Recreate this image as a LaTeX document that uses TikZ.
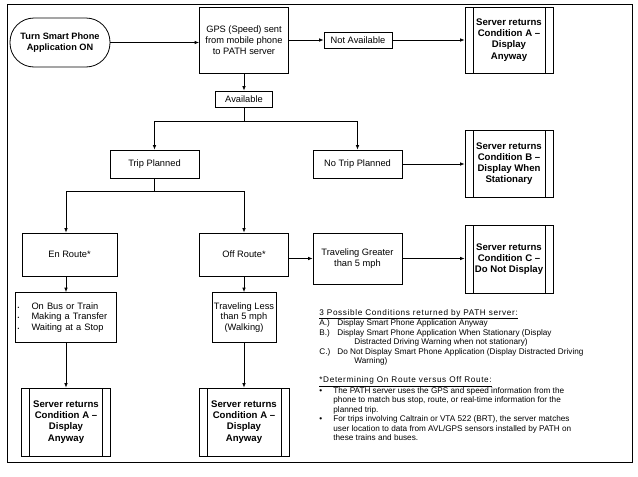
\documentclass[tikz,border=0pt]{standalone}
\usepackage{fontspec}
\setmainfont{Liberation Sans}
\usetikzlibrary{arrows.meta,calc}

\begin{document}
\begin{tikzpicture}[x=1pt,y=-1pt,
		%Option for nice arrows%
		>={Latex[length=4.5pt,width=3.6pt]},%
		line width=0.8pt,%
		box/.style={draw, inner sep=1.5pt, align=center,
			font=\fontsize{9.3}{10.8}\selectfont},%
		term/.style={box, rounded corners=24pt,
			font=\bfseries\fontsize{9.2}{10.8}\selectfont},%
		srv/.style={box, font=\bfseries\fontsize{9.6}{11.2}\selectfont,
			path picture={\draw[line width=0.8pt]
				([xshift=\inset]path picture bounding box.north west) -- ([xshift=\inset]path picture bounding box.south west)
				([xshift=-\inset]path picture bounding box.north east) -- ([xshift=-\inset]path picture bounding box.south east);}},%
		note/.style={align=left, anchor=north west, inner sep=0pt,
			font=\fontsize{8.2}{9.45}\selectfont}%
		]
		%% some definitions
		\def\inset{8pt}    % side bars of the server boxes
		\def\bul{\makebox[14pt][l]{\tiny\textbullet}} % bullet in the list box
		\def\head#1{\underline{\addfontfeature{LetterSpace=8}#1}} % note headings
		%
		\useasboundingbox (0,0) rectangle (638,477);
		\draw[line width=1pt] (7,4) rectangle (632,462);
		%
		%% first row
		\node[term, minimum width=100pt, minimum height=49pt] (start) at (60,42.5) {Turn Smart Phone\\Application ON};
		\node[box, minimum width=89pt, minimum height=66pt] (gps) at (244,40) {GPS (Speed) sent\\from mobile phone\\to PATH server};
		\node[box, minimum width=68pt, minimum height=16pt] (notavail) at (358,40) {Not Available};
		\node[srv, minimum width=88pt, minimum height=66pt] (srvA) at (509,40) {Server returns\\Condition A --\\Display\\Anyway};
		\node[box, minimum width=57pt, minimum height=16pt] (avail) at (244,99) {Available};
		%
		%% trip planned or not
		\node[box, minimum width=89pt, minimum height=28pt] (trip) at (154.5,164) {Trip Planned};
		\node[box, minimum width=89pt, minimum height=28pt] (notrip) at (357.5,164) {No Trip Planned};
		\node[srv, minimum width=88pt, minimum height=67pt] (srvB) at (509,163.5) {Server returns\\Condition B --\\Display When\\Stationary};
		%
		%% en route / off route
		\node[box, minimum width=95pt, minimum height=43pt] (enroute) at (69.5,254.5) {En Route*};
		\node[box, minimum width=89pt, minimum height=43pt] (offroute) at (244,254.5) {Off Route*};
		\node[box, minimum width=89pt, minimum height=51pt] (greater) at (357.5,258.5) {Traveling Greater\\than 5 mph};
		\node[srv, minimum width=88pt, minimum height=68pt] (srvC) at (509,259) {Server returns\\Condition C --\\Do Not Display};
		\node[box, align=left, minimum width=101pt, minimum height=50pt, text width=97pt] (onbus) at (66,317.5)
			{\bul On Bus or Train\\\bul Making a Transfer\\\bul Waiting at a Stop};
		\node[box, minimum width=64pt, minimum height=50pt] (less) at (244,317.5) {Traveling Less\\than 5 mph\\(Walking)};
		\node[srv, minimum width=89pt, minimum height=68pt] (srvAen) at (66,422) {Server returns\\Condition A --\\Display\\Anyway};
		\node[srv, minimum width=90pt, minimum height=68pt] (srvAoff) at (244,422) {Server returns\\Condition A --\\Display\\Anyway};
		%
		%% connectors
		\draw[->] (start.east) -- (start.east -| gps.west);
		\draw[->] (gps) -- (notavail);
		\draw[->] (notavail) -- (srvA);
		\draw[->] (gps) -- (avail);
		\draw[->] (avail.south) -- ++(0,14) -| (trip.north);
		\draw[->] (avail.south) -- ++(0,14) -| (notrip.north);
		\draw[->] (notrip) -- (notrip -| srvB.west);
		\draw[->] (trip.south) -- ++(0,13) -| (enroute.north -| onbus.north);
		\draw[->] (trip.south) -- ++(0,13) -| (offroute.north);
		\draw[->] (enroute.south -| onbus.north) -- (onbus.north);
		\draw[->] (onbus) -- (srvAen);
		\draw[->] (offroute) -- (less);
		\draw[->] (less) -- (srvAoff);
		\draw[->] (greater.west -| offroute.east) -- (greater.west);
		\draw[->] (greater.east) -- (greater.east -| srvC.west);
		%
		%% notes
		\node[note] (conds) at (319,309) {%
			\head{3 Possible Conditions returned by PATH server:}\\
			\makebox[18pt][l]{A.)}Display Smart Phone Application Anyway\\
			\makebox[18pt][l]{B.)}Display Smart Phone Application When Stationary (Display\\
			\hspace*{35pt}Distracted Driving Warning when not stationary)\\
			\makebox[18pt][l]{C.)}Do Not Display Smart Phone Application (Display Distracted Driving\\
			\hspace*{35pt}Warning)\\[9.45pt]
			\head{*Determining On Route versus Off Route:}\\
			\makebox[14pt][l]{\textbullet}The PATH server uses the GPS and speed information from the\\
			\hspace*{14pt}phone to match bus stop, route, or real-time information for the\\
			\hspace*{14pt}planned trip.\\
			\makebox[14pt][l]{\textbullet}For trips involving Caltrain or VTA 522 (BRT), the server matches\\
			\hspace*{14pt}user location to data from AVL/GPS sensors installed by PATH on\\
			\hspace*{14pt}these trains and buses.};
	\end{tikzpicture}
\end{document}
